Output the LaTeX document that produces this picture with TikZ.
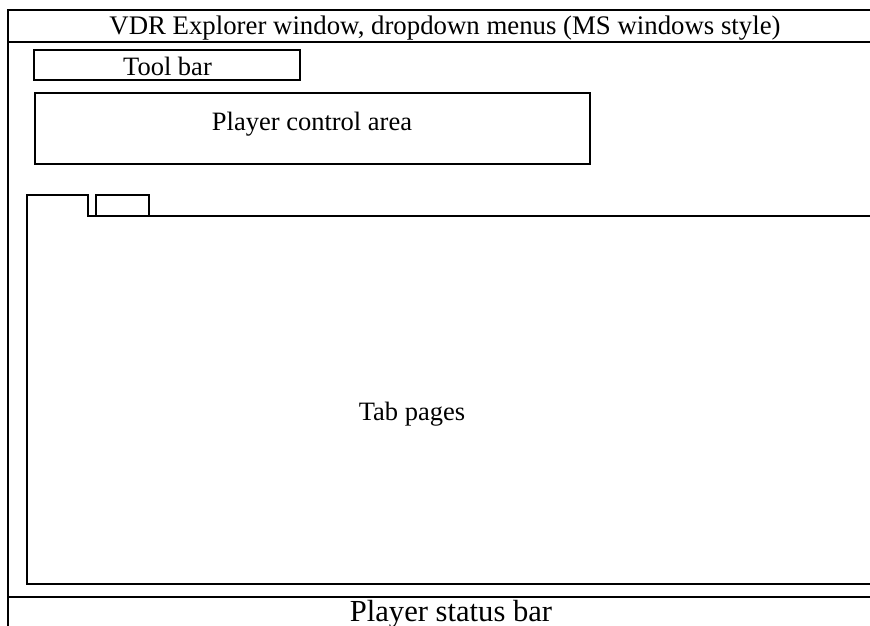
\documentclass[tikz,border=0pt]{standalone}
\usepackage{fontspec}
\setmainfont{Liberation Serif}
\usetikzlibrary{positioning,calc}

\tikzset{
  frame/.style={line width=1.6pt},
  panel/.style={draw, line width=1.6pt, inner sep=0pt},
  label/.style={font=\fontsize{26.5}{30}\selectfont, inner sep=0pt, anchor=base}
}

\begin{document}
\begin{tikzpicture}[x=1pt,y=-1pt]
      \useasboundingbox (0,0) rectangle (870,626);
      % outer window
      \draw[frame] (870,10) -- (8,10) -- (8,626);
      \draw[line width=2.6pt] (8,42) -- (870,42);
      \draw[frame] (8,597) -- (870,597);
      \node[label, font=\fontsize{26.8}{30}\selectfont] (title) at (445,35) {VDR Explorer window, dropdown menus (MS windows style)};
      \node[label, font=\fontsize{30.6}{34}\selectfont] (status) at (451,621) {Player status bar};
      % top area
      \node[panel, minimum width=266, minimum height=30] (toolbar) at (167,65) {};
      \node[label] (tooltext) at (167.5,75) {Tool bar};
      \node[panel, minimum width=555, minimum height=71] (control) at (312.5,128.5) {};
      \node[label] (controltext) at (312,130) {Player control area};
      % tabs
      \draw[frame] (870,584) -- (27,584) -- (27,195) -- (88,195) -- (88,216) -- (870,216);
      \draw[frame] (96,216) -- (96,195) -- (149,195) -- (149,216);
      \node[label] (tabs) at (412,420) {Tab pages};
    \end{tikzpicture}
\end{document}
